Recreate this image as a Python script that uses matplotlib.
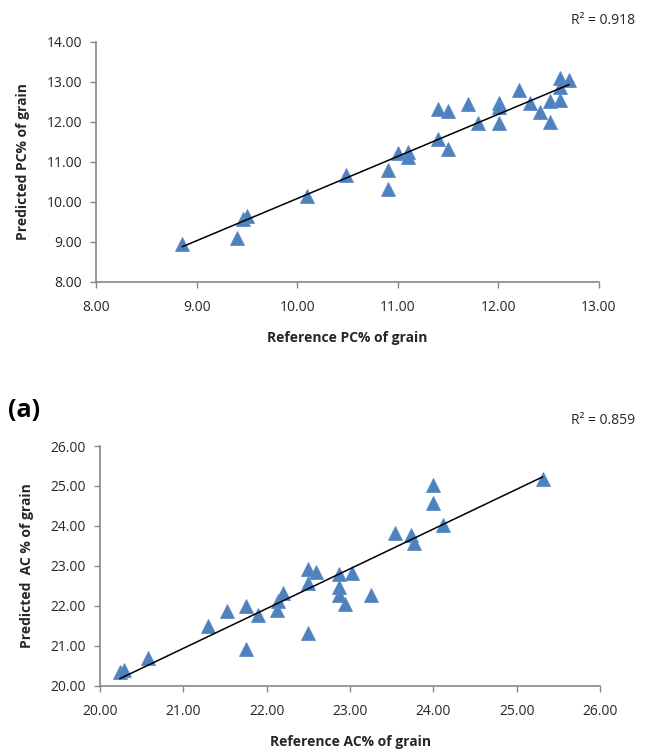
import matplotlib
matplotlib.use("Agg")
import matplotlib.pyplot as plt
import numpy as np

plt.rcParams['font.family'] = ['Open Sans', 'DejaVu Sans']

# (top) protein content
pc_ref = [8.86, 9.40, 9.46, 9.50, 10.10, 10.49, 10.90, 10.90, 11.00, 11.10,
          11.10, 11.40, 11.40, 11.50, 11.50, 11.70, 11.80, 12.01, 12.01, 12.01,
          12.21, 12.31, 12.41, 12.51, 12.51, 12.61, 12.61, 12.61, 12.70]
pc_pred = [8.95, 9.10, 9.58, 9.64, 10.14, 10.68, 10.79, 10.33, 11.22, 11.25,
           11.11, 12.33, 11.58, 12.28, 11.33, 12.44, 11.98, 12.48, 12.36, 11.96,
           12.79, 12.48, 12.25, 12.53, 12.00, 13.09, 12.86, 12.54, 13.04]

# (bottom) amylose content
ac_ref = [20.24, 20.29, 20.58, 21.30, 21.52, 21.75, 21.75, 21.90, 22.12, 22.14,
          22.20, 22.50, 22.50, 22.50, 22.59, 22.87, 22.87, 22.87, 22.94, 23.02,
          23.25, 23.54, 23.73, 23.77, 24.00, 24.00, 24.11, 25.31]
ac_pred = [20.35, 20.39, 20.70, 21.49, 21.88, 22.00, 20.93, 21.77, 21.89, 22.12,
           22.31, 22.92, 22.58, 21.33, 22.84, 22.79, 22.46, 22.27, 22.05, 22.81,
           22.26, 23.83, 23.78, 23.58, 25.02, 24.58, 24.02, 25.18]

BLUE = '#4F81BD'
GREY = '#868686'
TXT = '#262626'


def draw(ax, xs, ys, lo, hi, xlabel, ylabel):
    ax.plot(xs, ys, linestyle='none', marker='^', markersize=10,
            color=BLUE, markeredgecolor='#5B8CC8', markeredgewidth=0.6, zorder=3)
    k, b = np.polyfit(xs, ys, 1)
    xx = np.array([min(xs), max(xs)])
    ax.plot(xx, k * xx + b, color='black', linewidth=1.1, zorder=4)
    ax.set_xlim(lo, hi)
    ax.set_ylim(lo, hi)
    ticks = np.arange(lo, hi + 0.5, 1)
    ax.set_xticks(ticks)
    ax.set_yticks(ticks)
    ax.set_xticklabels([f"{t:.2f}" for t in ticks])
    ax.set_yticklabels([f"{t:.2f}" for t in ticks])
    for s in ['top', 'right']:
        ax.spines[s].set_visible(False)
    for s in ['left', 'bottom']:
        ax.spines[s].set_color(GREY)
        ax.spines[s].set_linewidth(1.2)
    ax.tick_params(direction='out', length=4, width=1, color=GREY,
                   labelsize=10, labelcolor=TXT, pad=6)
    ax.tick_params(axis='x', pad=9)
    ax.set_xlabel(xlabel, fontsize=10, fontweight='bold', color=TXT, labelpad=12)
    ax.set_ylabel(ylabel, fontsize=10, fontweight='bold', color=TXT, labelpad=12)


fig = plt.figure(figsize=(6.49, 7.53), dpi=100)

ax1 = fig.add_axes([0.1479, 0.6259, 0.7750, 0.3187])
draw(ax1, pc_ref, pc_pred, 8, 14, 'Reference PC% of grain', 'Predicted PC% of grain')
ax1.set_xlim(8, 13)
ax1.set_xticks(np.arange(8, 13.5, 1))
ax1.set_xticklabels([f"{t:.2f}" for t in np.arange(8, 13.5, 1)])

ax2 = fig.add_axes([0.1541, 0.0894, 0.7704, 0.3183])
draw(ax2, ac_ref, ac_pred, 20, 26, 'Reference AC% of grain', 'Predicted  AC % of grain')

fig.text(0.978, 0.973, 'R² = 0.918', ha='right', va='center', fontsize=10, color=TXT)
fig.text(0.978, 0.442, 'R² = 0.859', ha='right', va='center', fontsize=10, color=TXT)
fig.text(0.012, 0.455, '(a)', ha='left', va='center', fontsize=18, fontweight='bold', color='black')

fig.savefig('out.png', dpi=100)
